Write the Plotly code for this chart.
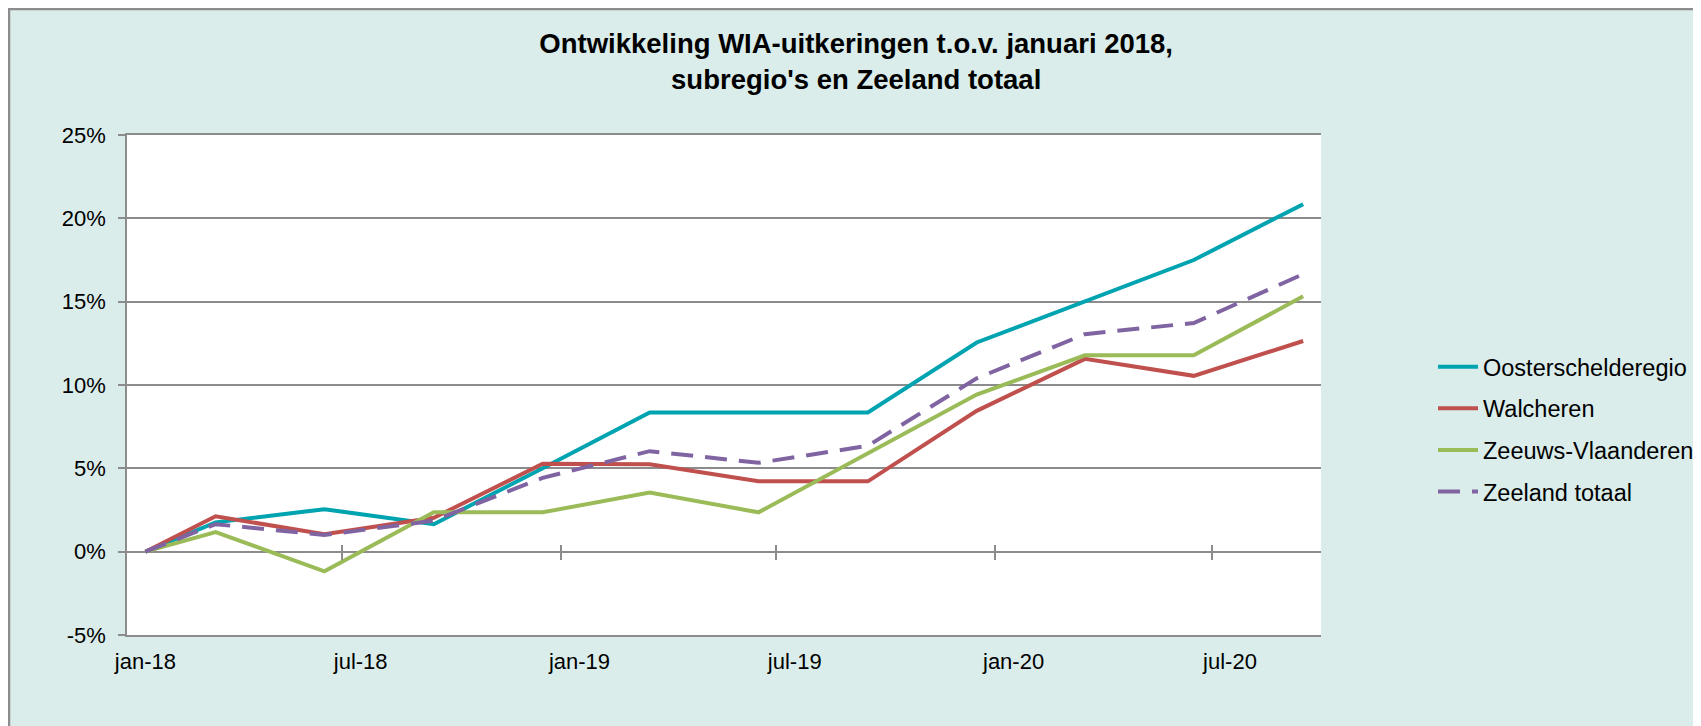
import pandas as pd
import plotly.graph_objects as go

# ---- data (percent change vs. january 2018) ----
months = ["2018-01", "2018-03", "2018-06", "2018-09", "2018-12", "2019-03",
          "2019-06", "2019-09", "2019-12", "2020-03", "2020-06", "2020-09"]
oosterschelderegio = [0, 1.76, 2.55, 1.65, 5.0, 8.35, 8.35, 8.35, 12.55, 15.0, 17.5, 20.85]
walcheren = [0, 2.12, 1.05, 2.03, 5.28, 5.25, 4.22, 4.22, 8.45, 11.57, 10.55, 12.64]
zeeuws_vlaanderen = [0, 1.18, -1.18, 2.36, 2.36, 3.55, 2.36, 5.92, 9.43, 11.78, 11.78, 15.32]
zeeland_totaal = [0, 1.65, 1.0, 1.86, 4.43, 6.03, 5.33, 6.35, 10.4, 13.05, 13.72, 16.65]

series_names = ["Oosterschelderegio", "Walcheren", "Zeeuws-Vlaanderen", "Zeeland totaal"]
series_values = [oosterschelderegio, walcheren, zeeuws_vlaanderen, zeeland_totaal]
series_colors = ["#00A3B0", "#C0504D", "#9BBB59", "#8064A2"]
series_dash = ["solid", "solid", "solid", "22px,12px"]

tick_months = ["2018-01", "2018-07", "2019-01", "2019-07", "2020-01", "2020-07"]
tick_labels = ["jan-18", "jul-18", "jan-19", "jul-19", "jan-20", "jul-20"]
y_ticks = [-5, 0, 5, 10, 15, 20, 25]
y_labels = ["-5%", "0%", "5%", "10%", "15%", "20%", "25%"]


def mid_month(m):
    p = pd.Period(m, freq="M")
    return p.start_time + (p.end_time - p.start_time) / 2


x_vals = [mid_month(m) for m in months]
tick_pos = [mid_month(m) for m in tick_months]
tick_marks = [pd.Period(m, freq="M").start_time for m in tick_months[1:]]
x_range = [pd.Timestamp("2018-01-01"), pd.Timestamp("2020-10-01")]

FONT = "Liberation Sans, Arial, sans-serif"
BG = "#DAEDEB"
GRID = "#8C8C8C"

# the page adds an 8px body margin, so the figure is a bit smaller than the window
W, H = 1693, 718
ML, MR, MT, MB = 119, 380, 127, 91
PW, PH = W - ML - MR, H - MT - MB

fig = go.Figure()
for i, (name, vals, col, dash) in enumerate(zip(series_names, series_values, series_colors, series_dash)):
    fig.add_trace(go.Scatter(
        x=x_vals, y=vals, mode="lines", name=name,
        line=dict(color=col, width=4, dash=dash),
        legendgroup=f"g{i}",
    ))

# invisible traces for tick marks crossing the 0% line
fig.add_trace(go.Scatter(x=x_range, y=[None, None], xaxis="x2", showlegend=False, hoverinfo="skip"))
fig.add_trace(go.Scatter(x=x_range, y=[None, None], xaxis="x3", showlegend=False, hoverinfo="skip"))

zero_pos = (0 - y_ticks[0]) / (y_ticks[-1] - y_ticks[0])


def px_x(px):
    return (px - ML) / PW


def px_y(py):
    return (H - MB - py) / PH


fig.update_layout(
    width=W, height=H,
    margin=dict(l=ML, r=MR, t=MT, b=MB, autoexpand=False),
    paper_bgcolor=BG,
    plot_bgcolor="white",
    font=dict(family=FONT, size=22, color="#000000"),
    title=dict(
        text="Ontwikkeling WIA-uitkeringen t.o.v. januari 2018,<br>subregio's en Zeeland totaal",
        x=0.501, xref="container", xanchor="center",
        y=1 - 45 / H, yref="container", yanchor="middle",
        font=dict(family=FONT, size=27.5, color="#000000", weight="bold"),
    ),
    xaxis=dict(
        type="date", range=x_range,
        tickvals=tick_pos, ticktext=tick_labels,
        ticks="", showgrid=False, zeroline=False,
        showline=True, linecolor=GRID, linewidth=1.5, mirror=True,
        ticklabelstandoff=6,
        tickfont=dict(size=22),
    ),
    xaxis2=dict(
        type="date", range=x_range, overlaying="x", anchor="free", position=zero_pos,
        tickvals=tick_marks, ticks="outside", ticklen=7, tickcolor=GRID, tickwidth=1.5,
        showticklabels=False, showgrid=False, zeroline=False, showline=False,
    ),
    xaxis3=dict(
        type="date", range=x_range, overlaying="x", anchor="free", position=zero_pos,
        tickvals=tick_marks, ticks="inside", ticklen=7, tickcolor=GRID, tickwidth=1.5,
        showticklabels=False, showgrid=False, zeroline=False, showline=False,
    ),
    yaxis=dict(
        range=[y_ticks[0], y_ticks[-1]], tickvals=y_ticks, ticktext=y_labels,
        showgrid=True, gridcolor=GRID, gridwidth=1.5,
        zeroline=True, zerolinecolor=GRID, zerolinewidth=1.5,
        showline=True, linecolor=GRID, linewidth=1.5,
        ticks="outside", ticklen=7, tickcolor=GRID, tickwidth=1.5,
        ticklabelstandoff=8,
        tickfont=dict(size=22),
    ),
    legend=dict(
        x=px_x(1425), xanchor="left",
        y=px_y(337), yanchor="top",
        bgcolor="rgba(0,0,0,0)",
        font=dict(family=FONT, size=23.5, color="#000000"),
        tracegroupgap=8,
        itemwidth=40,
    ),
    shapes=[
        # grey frame along the top and left edge of the chart
        dict(type="line", xref="paper", yref="paper", x0=px_x(1), x1=px_x(1), y0=px_y(0), y1=px_y(H + 5),
             line=dict(color="#8C8C8C", width=2.5)),
        dict(type="line", xref="paper", yref="paper", x0=px_x(0), x1=px_x(W + 5), y0=px_y(1), y1=px_y(1),
             line=dict(color="#8C8C8C", width=2.5)),
    ],
)

fig.write_html("out.html")
